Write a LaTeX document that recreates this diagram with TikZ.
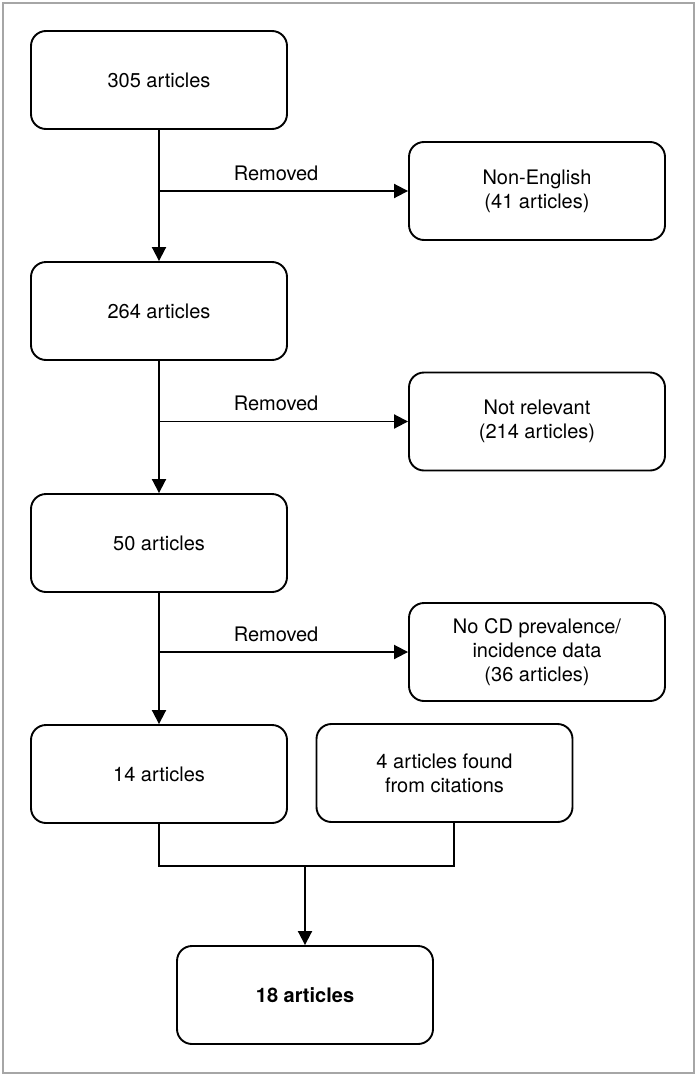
\documentclass[tikz,border=0pt]{standalone}
\usepackage{fontspec}
\setmainfont{TeX Gyre Heros}
\usetikzlibrary{arrows.meta,positioning}

\begin{document}
\begin{tikzpicture}[x=1pt,y=-1pt,
    box/.style={draw,rounded corners=15pt,line width=1.9pt,minimum width=256pt,minimum height=98pt,align=center,font=\fontsize{20}{24}\selectfont},
    flow/.style={line width=1.9pt,-{Triangle[length=14pt,width=14pt]}},
    link/.style={line width=1.9pt}]
    \useasboundingbox (0,0) rectangle (697,1076);
    \draw[gray!70,line width=1.5pt] (3,3) rectangle (694,1073);

    % Main column
    \node[box] (n305) at (159,80) {305 articles};
    \node[box] (n264) at (159,311) {264 articles};
    \node[box] (n50) at (159,543) {50 articles};
    \node[box] (n14) at (159,774) {14 articles};

    % Removed articles
    \node[box] (ex1) at (537,191) {Non-English\\(41 articles)};
    \node[box] (ex2) at (537,421.5) {Not relevant\\(214 articles)};
    \node[box] (ex3) at (537,652) {No CD prevalence/\\incidence data\\(36 articles)};

    % Citations and result
    \node[box] (cit) at (444.5,773) {4 articles found\\from citations};
    \node[box,font=\fontsize{20}{24}\selectfont\bfseries] (n18) at (305,995) {18 articles};

    % Connections
    \foreach \a/\b/\e in {n305/n264/ex1,n264/n50/ex2,n50/n14/ex3} {
        \draw[flow] (\a) -- (\b);
        \coordinate (\e br) at (\a.south |- \e.west);
        \draw[flow] (\e br) -- node[above=6pt,pos=0.47,font=\fontsize{20}{24}\selectfont] {Removed} (\e.west);
    }

    % Merge
    \coordinate (merge) at (305,866);
    \coordinate (cjoin) at (454,866);
    \draw[link] (n14.south) |- (cjoin) -- (cjoin |- cit.south);
    \draw[flow] (merge) -- (n18);
\end{tikzpicture}
\end{document}
